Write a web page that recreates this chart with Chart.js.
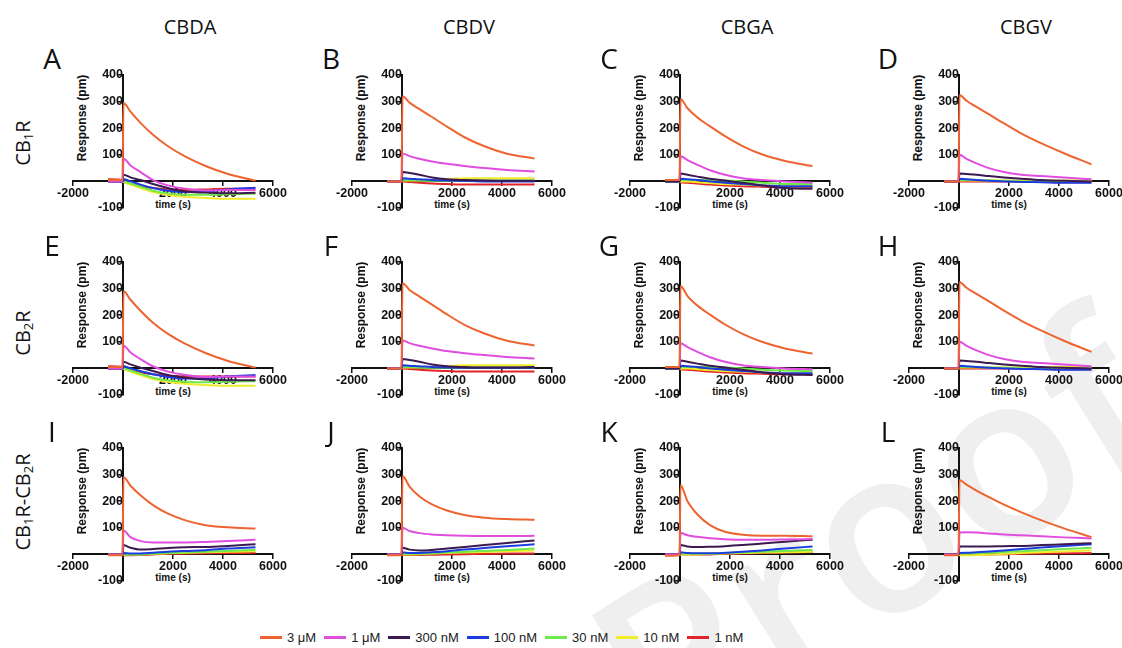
<!DOCTYPE html>
<html>
<head>
<meta charset="utf-8">
<script src="https://cdn.jsdelivr.net/npm/chart.js@4.4.0/dist/chart.umd.min.js"></script>
<style>
  body { margin: 0; background: #fff; }
  #fig { position: relative; width: 1122px; height: 648px; overflow: hidden; font-family: "Open Sans", sans-serif; }
  #fig canvas { position: absolute; }
  .lbl { position: absolute; white-space: nowrap; color: #111; line-height: 1; }
  .head { font-size: 20px; }
  .rowlab { font-size: 20px; }
  .letter { font-size: 28px; }
  .ytitle { font-family: "Liberation Sans", Arial, sans-serif; font-weight: bold; font-size: 12px; }
  .xtitle { font-family: "Liberation Sans", Arial, sans-serif; font-weight: bold; font-size: 10px; }
  .sub { font-size: 0.65em; vertical-align: -0.3em; }
  #mark { position: absolute; left: 870px; top: 530px; transform: translate(-50%,-50%) rotate(-32deg);
          font-family: "Open Sans", sans-serif; font-weight: 600; font-size: 230px; color: #efefef;
          line-height: 1; white-space: nowrap; }
  #legend { position: absolute; left: 252px; top: 630px; display: flex; align-items: center;
            font-family: "Liberation Sans", Arial, sans-serif; font-size: 13px; color: #222; }
  #legend .sw { display: inline-block; width: 22px; height: 3px; margin: 0 5px 0 8px; }
</style>
</head>
<body>
<div id="fig"><div id="mark">Proof</div><div id="legend"></div></div>
<script>
// time points (s) shared by every trace
const times = [-600, -20, 20, 300, 700, 1200, 1800, 2500, 3300, 4200, 5300];
const concLabels = ['3 \u03bcM', '1 \u03bcM', '300 nM', '100 nM', '30 nM', '10 nM', '1 nM'];
const concColors = ['#ee6430', '#e04ee0', '#3a1a50', '#1d3ce0', '#6ee84a', '#f0ec2a', '#e02428'];
const compounds = ['CBDA', 'CBDV', 'CBGA', 'CBGV'];
const receptors = ['CB<span class="sub">1</span>R', 'CB<span class="sub">2</span>R',
                   'CB<span class="sub">1</span>R-CB<span class="sub">2</span>R'];
const letters = ['A', 'B', 'C', 'D', 'E', 'F', 'G', 'H', 'I', 'J', 'K', 'L'];
const xTicks = [-2000, 0, 2000, 4000, 6000];
const yTicks = [-100, 0, 100, 200, 300, 400];

// rows: 3 uM, 1 uM, 300 nM, 100 nM, 30 nM, 10 nM, 1 nM
const cb1_cbda = [
  [5, 5, 295, 262, 220, 175, 132, 93, 58, 28, 3],
  [0, 0, 85, 60, 35, 5, -15, -28, -34, -32, -32],
  [0, 0, 25, 15, 5, -10, -25, -38, -42, -45, -43],
  [0, 0, 8, 0, -12, -25, -35, -40, -38, -30, -24],
  [0, 0, 0, -8, -20, -35, -45, -50, -50, -48, -46],
  [0, 0, -2, -12, -25, -40, -50, -58, -62, -65, -65],
  [8, 5, 0, -10, -18, -25, -30, -32, -30, -28, -28]
];
const cb1_cbdv = [
  [0, 0, 320, 296, 272, 242, 206, 166, 132, 104, 86],
  [0, 0, 105, 95, 85, 75, 66, 58, 50, 43, 37],
  [0, 0, 35, 32, 25, 15, 8, 5, 3, 2, 2],
  [0, 0, 12, 10, 8, 5, 3, 2, 0, 0, 0],
  [0, 0, 5, 5, 3, 2, 2, 3, 3, 3, 3],
  [0, 0, 3, 3, 3, 5, 8, 12, 12, 12, 12],
  [0, 0, 0, -2, -5, -8, -10, -12, -12, -12, -12]
];
const cb1_cbga = [
  [5, 5, 310, 275, 240, 207, 170, 133, 101, 77, 58],
  [5, 5, 95, 80, 62, 42, 25, 12, 5, 0, -5],
  [0, 0, 30, 25, 18, 10, 3, -5, -15, -25, -28],
  [0, 0, 10, 8, 5, 0, -5, -10, -15, -18, -18],
  [0, 0, 5, 5, 5, 5, 3, 0, -5, -10, -10],
  [0, 0, 0, 0, -3, -6, -10, -12, -15, -18, -18],
  [0, 0, -3, -5, -8, -12, -15, -18, -20, -22, -22]
];
const cb1_cbgv = [
  [0, 0, 325, 303, 280, 252, 218, 180, 143, 106, 64],
  [0, 0, 100, 85, 68, 50, 35, 25, 20, 15, 8],
  [0, 0, 30, 28, 25, 20, 15, 10, 5, 2, 0],
  [0, 0, 10, 8, 5, 2, 0, -2, -3, -5, -5],
  [0, 0, 5, 5, 5, 3, 2, 0, 0, 0, 0],
  [0, 0, 3, 3, 3, 3, 3, 3, 3, 3, 3],
  [0, 0, 0, 0, 0, 0, 0, 0, -2, -3, -3]
];
const cb2_cbda = [
  [5, 5, 290, 258, 217, 172, 130, 92, 58, 28, 3],
  [0, 0, 85, 60, 35, 8, -12, -25, -32, -30, -30],
  [0, 0, 25, 15, 3, -10, -25, -35, -42, -45, -45],
  [0, 0, 8, 0, -10, -22, -32, -38, -38, -30, -25],
  [0, 0, 0, -8, -20, -35, -45, -50, -52, -50, -48],
  [0, 0, -2, -12, -25, -40, -50, -58, -62, -65, -65],
  [8, 5, 0, -8, -15, -22, -28, -30, -30, -30, -30]
];
const cb2_cbdv = [
  [0, 0, 320, 295, 270, 240, 203, 164, 131, 104, 86],
  [0, 0, 105, 95, 85, 75, 65, 57, 50, 43, 37],
  [0, 0, 35, 32, 25, 15, 8, 5, 3, 3, 5],
  [0, 0, 12, 10, 8, 5, 3, 2, 2, 2, 2],
  [0, 0, 5, 5, 3, 2, 2, 3, 3, 3, 3],
  [0, 0, 3, 3, 3, 5, 8, 12, 12, 12, 12],
  [0, 0, 0, -2, -5, -8, -10, -12, -12, -12, -12]
];
const cb2_cbga = [
  [5, 5, 310, 272, 236, 202, 165, 130, 99, 75, 56],
  [5, 5, 95, 80, 62, 42, 25, 12, 5, 0, -3],
  [0, 0, 30, 25, 18, 10, 3, -5, -15, -22, -25],
  [0, 0, 10, 8, 5, 0, -5, -10, -15, -18, -18],
  [0, 0, 5, 5, 5, 5, 3, 0, -5, -8, -10],
  [0, 0, 0, 0, -3, -6, -10, -12, -15, -18, -18],
  [0, 0, -3, -5, -8, -12, -15, -18, -20, -22, -22]
];
const cb2_cbgv = [
  [0, 0, 325, 303, 280, 252, 217, 179, 142, 104, 62],
  [0, 0, 100, 85, 68, 50, 35, 25, 20, 15, 8],
  [0, 0, 30, 28, 25, 20, 15, 10, 5, 2, 0],
  [0, 0, 10, 8, 5, 2, 0, -2, -3, -5, -5],
  [0, 0, 5, 5, 5, 3, 2, 0, 0, 0, 0],
  [0, 0, 3, 3, 3, 3, 3, 3, 5, 5, 5],
  [0, 0, 0, 0, 0, 0, 0, 0, -2, -3, -3]
];
const het_cbda = [
  [-3, -3, 290, 258, 222, 185, 153, 128, 110, 102, 97],
  [0, 0, 90, 65, 50, 45, 45, 45, 47, 50, 55],
  [0, 0, 35, 25, 18, 20, 24, 27, 28, 32, 38],
  [0, 0, 5, 3, 3, 6, 10, 13, 16, 22, 27],
  [0, 0, 0, 0, 0, 3, 5, 8, 10, 13, 17],
  [0, 0, 0, 0, 0, 2, 4, 6, 8, 10, 12],
  [0, 0, -3, -3, -2, 0, 2, 3, 4, 5, 6]
];
const het_cbdv = [
  [-3, -3, 295, 255, 218, 188, 165, 148, 138, 133, 130],
  [0, 0, 100, 88, 80, 75, 72, 70, 69, 69, 70],
  [0, 0, 25, 18, 15, 17, 22, 28, 35, 43, 52],
  [0, 0, 8, 5, 5, 8, 12, 18, 24, 31, 38],
  [0, 0, 3, 2, 2, 4, 7, 10, 13, 17, 22],
  [0, 0, 0, 0, 1, 3, 5, 7, 9, 12, 15],
  [0, 0, -2, -2, -2, -1, 0, 1, 2, 3, 3]
];
const het_cbga = [
  [-5, -3, 260, 200, 150, 110, 85, 74, 70, 70, 68],
  [0, 0, 80, 72, 66, 61, 57, 55, 55, 56, 58],
  [0, 0, 35, 30, 28, 29, 31, 35, 41, 48, 55],
  [0, 0, 8, 5, 4, 4, 6, 10, 15, 22, 30],
  [0, 0, 3, 3, 3, 3, 5, 7, 10, 13, 17],
  [0, 0, 0, 0, 0, 2, 3, 5, 7, 8, 10],
  [0, 0, 0, 0, 0, 0, 2, 3, 5, 7, 9]
];
const het_cbgv = [
  [-3, -3, 280, 262, 240, 215, 187, 158, 128, 98, 65],
  [0, 0, 82, 83, 82, 79, 75, 72, 68, 64, 60],
  [0, 0, 30, 30, 30, 30, 31, 32, 35, 38, 42],
  [0, 0, 5, 6, 8, 11, 15, 20, 26, 32, 38],
  [0, 0, 3, 3, 4, 6, 9, 12, 16, 20, 25],
  [0, 0, -3, -3, -2, 0, 2, 5, 8, 11, 15],
  [0, 0, 0, 0, 0, 0, 1, 2, 3, 4, 5]
];

const panels = [cb1_cbda, cb1_cbdv, cb1_cbga, cb1_cbgv,
                cb2_cbda, cb2_cbdv, cb2_cbga, cb2_cbgv,
                het_cbda, het_cbdv, het_cbga, het_cbgv];

// layout of the grid (pixel position of each plot area)
const colLeft = [73, 352, 630, 909];
const rowTop = [75, 262, 448];
const rowLabelY = [143, 333, 502];
const PW = 200, PH = 133;
const PAD = {left: 70, right: 22, top: 30, bottom: 27};

const fig = document.getElementById('fig');
const tickFont = {family: '"Liberation Sans", Arial, sans-serif', size: 12.5, weight: 'bold'};

function addText(html, cls, x, y, rot) {
  const d = document.createElement('div');
  d.className = 'lbl ' + cls;
  d.innerHTML = html;
  d.style.left = x + 'px';
  d.style.top = y + 'px';
  d.style.transform = 'translate(-50%,-50%)' + (rot ? ' rotate(' + rot + 'deg)' : '');
  fig.appendChild(d);
}

compounds.forEach((c, i) => addText(c, 'head', colLeft[i] + 117, 27));
receptors.forEach((r, i) => addText(r, 'rowlab', 24, rowLabelY[i], -90));

panels.forEach((series, p) => {
  const col = p % 4, row = Math.floor(p / 4);
  const left = colLeft[col], top = rowTop[row];
  const axisX = left + PW / 4;

  addText(letters[p], 'letter', axisX - 71, top - 17);
  addText('Response (pm)', 'ytitle', axisX - 41, top + 43, -90);
  addText('time (s)', 'xtitle', left + PW / 2, top + 130);

  const cv = document.createElement('canvas');
  const w = PAD.left + PW + PAD.right, h = PAD.top + PH + PAD.bottom;
  cv.width = w; cv.height = h;
  cv.style.width = w + 'px'; cv.style.height = h + 'px';
  cv.style.left = (left - PAD.left) + 'px';
  cv.style.top = (top - PAD.top) + 'px';
  fig.appendChild(cv);

  new Chart(cv.getContext('2d'), {
    type: 'line',
    data: {
      datasets: series.map((vals, k) => ({
        label: concLabels[k],
        data: times.map((t, j) => ({x: t, y: vals[j]})),
        borderColor: concColors[k],
        borderWidth: 2,
        pointRadius: 0,
        cubicInterpolationMode: 'monotone'
      }))
    },
    options: {
      responsive: false,
      animation: false,
      events: [],
      layout: {padding: PAD},
      plugins: {legend: {display: false}, tooltip: {enabled: false}},
      scales: {
        x: {
          type: 'linear', min: -2000, max: 6000,
          position: {y: 0},
          afterBuildTicks: s => { s.ticks = xTicks.map(v => ({value: v})); },
          grid: {drawOnChartArea: false, color: '#111', lineWidth: 1.5, tickLength: 4},
          border: {color: '#111', width: 2},
          ticks: {font: tickFont, color: '#111', padding: 1, maxRotation: 0,
                  callback: v => v === 0 ? '' : v}
        },
        y: {
          type: 'linear', min: -100, max: 400,
          position: {x: 0},
          afterBuildTicks: s => { s.ticks = yTicks.map(v => ({value: v})); },
          grid: {drawOnChartArea: false, color: '#111', lineWidth: 1.5, tickLength: 4},
          border: {color: '#111', width: 2},
          ticks: {font: tickFont, color: '#111', padding: 2,
                  callback: v => v === 0 ? '' : v}
        }
      }
    }
  });
});

// shared legend
const legend = document.getElementById('legend');
concLabels.forEach((lab, k) => {
  const sw = document.createElement('span');
  sw.className = 'sw';
  sw.style.background = concColors[k];
  const tx = document.createElement('span');
  tx.textContent = lab;
  legend.appendChild(sw);
  legend.appendChild(tx);
});
</script>
</body>
</html>
